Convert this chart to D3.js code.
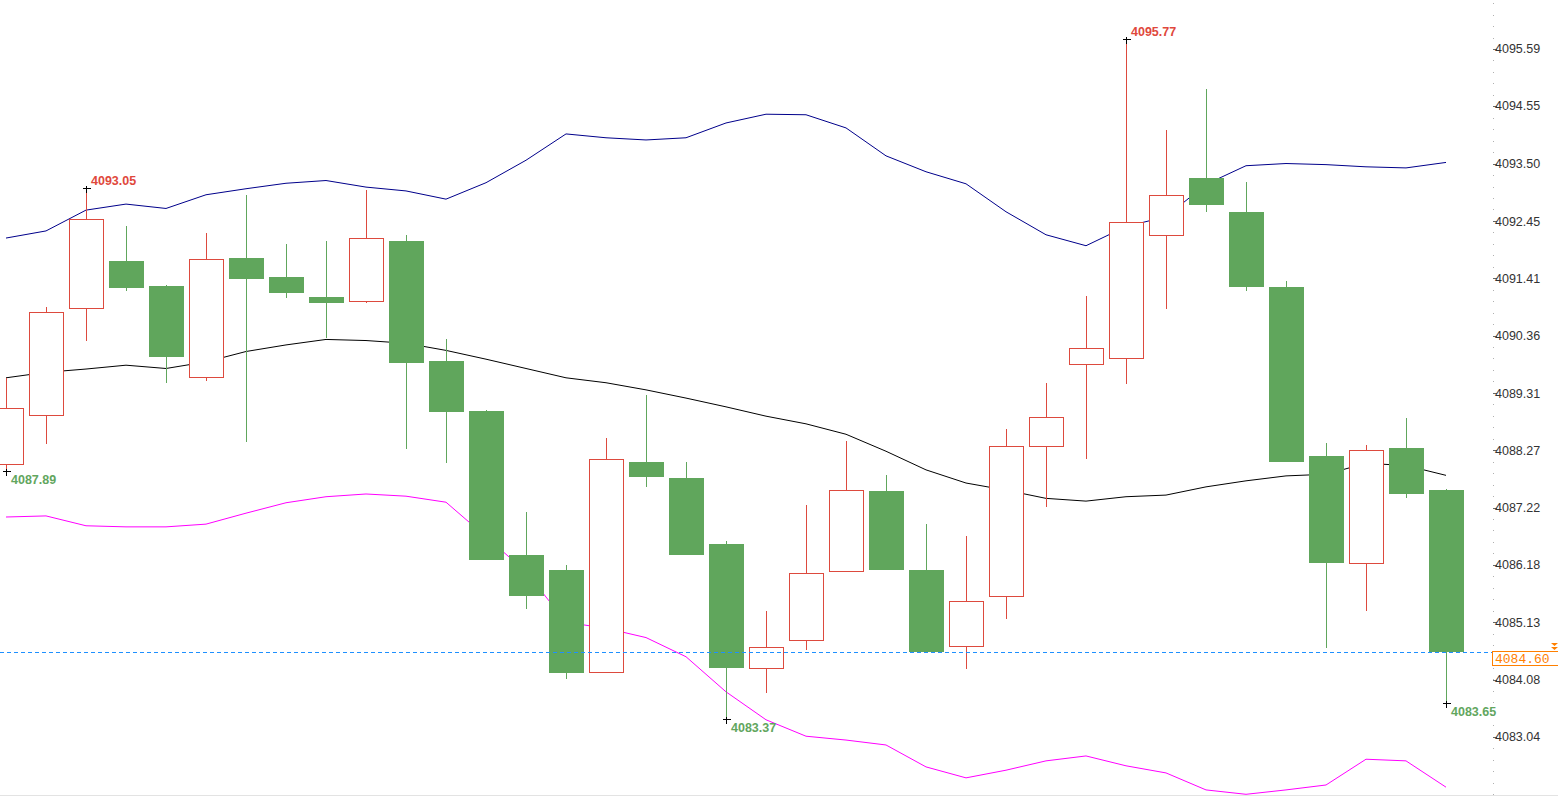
<!DOCTYPE html>
<html>
<head>
<meta charset="utf-8">
<script src="https://cdn.jsdelivr.net/npm/d3@7"></script>
<style>
html,body{margin:0;padding:0;background:#fff;}
svg{display:block;}
</style>
</head>
<body>
<svg id="chart" width="1558" height="798"></svg>
<script>
// ---------- data ----------
const openV  = [4088.01,4088.91,4090.86,4091.72,4091.26,4089.60,4091.78,4091.43,4091.06,4090.99,4092.09,4089.90,4088.98,4086.36,4086.08,4084.23,4088.05,4087.76,4086.56,4084.29,4084.80,4086.06,4087.52,4086.08,4084.69,4085.60,4088.34,4089.84,4089.96,4092.19,4093.24,4092.62,4091.24,4088.17,4086.21,4088.31,4087.54];
const highV  = [4089.59,4090.88,4093.05,4092.36,4091.28,4092.24,4092.93,4092.03,4092.09,4093.02,4092.20,4090.30,4089.00,4087.14,4086.17,4088.49,4089.28,4088.05,4086.61,4085.33,4087.27,4088.44,4087.82,4086.92,4086.70,4088.66,4089.50,4091.08,4095.77,4094.11,4094.86,4093.16,4091.36,4088.40,4088.36,4088.85,4087.56];
const lowV   = [4087.89,4088.39,4090.27,4091.18,4089.50,4089.54,4088.41,4091.05,4090.32,4090.96,4088.30,4088.04,4086.26,4085.38,4084.09,4084.22,4087.60,4086.36,4083.37,4083.83,4084.62,4086.05,4086.08,4084.60,4084.28,4085.19,4087.24,4088.10,4089.48,4090.85,4092.62,4091.18,4088.07,4084.66,4085.34,4087.40,4083.65];
const closeV = [4089.04,4090.79,4092.48,4091.25,4089.98,4091.75,4091.42,4091.16,4090.98,4092.15,4089.88,4088.99,4086.28,4085.63,4084.23,4088.10,4087.79,4086.38,4084.32,4084.67,4086.02,4087.54,4086.11,4084.60,4085.51,4088.34,4088.87,4090.13,4092.43,4092.92,4092.77,4091.27,4088.08,4086.23,4088.27,4087.49,4084.60];
const upperBand  = [4092.14,4092.27,4092.65,4092.76,4092.68,4092.93,4093.04,4093.14,4093.19,4093.07,4093.00,4092.85,4093.15,4093.56,4094.04,4093.97,4093.93,4093.97,4094.24,4094.40,4094.39,4094.15,4093.64,4093.35,4093.13,4092.62,4092.20,4092.00,4092.35,4092.53,4093.12,4093.46,4093.50,4093.48,4093.44,4093.42,4093.52];
const middleBand = [4089.59,4089.69,4089.75,4089.82,4089.76,4089.88,4090.07,4090.19,4090.29,4090.27,4090.22,4090.09,4089.93,4089.76,4089.59,4089.50,4089.37,4089.22,4089.06,4088.89,4088.75,4088.56,4088.25,4087.91,4087.67,4087.54,4087.39,4087.34,4087.42,4087.45,4087.60,4087.71,4087.80,4087.83,4088.03,4087.99,4087.81];
const lowerBand  = [4087.05,4087.07,4086.89,4086.87,4086.87,4086.92,4087.12,4087.31,4087.42,4087.47,4087.43,4087.32,4086.69,4086.05,4085.13,4085.02,4084.85,4084.50,4083.86,4083.35,4083.05,4082.98,4082.89,4082.49,4082.29,4082.43,4082.60,4082.69,4082.51,4082.38,4082.07,4081.99,4082.07,4082.16,4082.63,4082.60,4082.12];
const tickValues = [4095.59,4094.55,4093.50,4092.45,4091.41,4090.36,4089.31,4088.27,4087.22,4086.18,4085.13,4084.08,4083.04];
const tickLabels = ["4095.59","4094.55","4093.50","4092.45","4091.41","4090.36","4089.31","4088.27","4087.22","4086.18","4085.13","4084.08","4083.04"];
const lastPrice = 4084.60;
const lastPriceLabel = "4084.60";
// extreme markers: candle index, kind, label
const markIndex = [2, 0, 28, 18, 36];
const markKind  = ["high","low","high","low","low"];
const markLabel = ["4093.05","4087.89","4095.77","4083.37","4083.65"];

// ---------- layout ----------
const W = 1558, H = 798;
const plotRight = 1492, plotBottom = 796;
const svg = d3.select("#chart");

const n = openV.length;
const x = d3.scaleLinear().domain([0, n - 1]).range([6, 1446]);
const y = d3.scaleLinear().domain([4081.959, 4096.484]).range([plotBottom, 0]);
const bodyW = 34;
const up = "#dd4a3e", down = "#60a65c";

// bottom border
svg.append("line").attr("x1",0).attr("x2",W).attr("y1",795.5).attr("y2",795.5)
  .attr("stroke","#e3e3e3").attr("stroke-width",1);

const plot = svg.append("g");
svg.append("clipPath").attr("id","pc").append("rect")
  .attr("x",0).attr("y",0).attr("width",plotRight).attr("height",plotBottom);
plot.attr("clip-path","url(#pc)");

// bands
const line = d3.line().x((d,i)=>x(i)).y(d=>y(d));
plot.append("path").datum(upperBand).attr("d",line).attr("fill","none").attr("stroke","#00008b").attr("stroke-width",1);
plot.append("path").datum(middleBand).attr("d",line).attr("fill","none").attr("stroke","#000").attr("stroke-width",1);
plot.append("path").datum(lowerBand).attr("d",line).attr("fill","none").attr("stroke","#ff00ff").attr("stroke-width",1);

// candles
const idx = d3.range(n);
const cg = plot.append("g").attr("shape-rendering","crispEdges");
idx.forEach(i => {
  const o = openV[i], c = closeV[i], h = highV[i], l = lowV[i];
  const cx = Math.round(x(i));
  const isUp = c >= o;
  const col = isUp ? up : down;
  const yTop = Math.round(y(Math.max(o,c))), yBot = Math.round(y(Math.min(o,c)));
  const yH = Math.round(y(h)), yL = Math.round(y(l));
  if (isUp) {
    cg.append("line").attr("x1",cx+0.5).attr("x2",cx+0.5).attr("y1",yH).attr("y2",yTop).attr("stroke",col);
    cg.append("line").attr("x1",cx+0.5).attr("x2",cx+0.5).attr("y1",yBot).attr("y2",yL).attr("stroke",col);
    cg.append("rect").attr("x",cx-17+0.5).attr("y",yTop+0.5).attr("width",bodyW).attr("height",Math.max(1,yBot-yTop))
      .attr("fill","#fff").attr("stroke",col).attr("stroke-width",1);
  } else {
    cg.append("line").attr("x1",cx+0.5).attr("x2",cx+0.5).attr("y1",yH).attr("y2",yL).attr("stroke",col);
    cg.append("rect").attr("x",cx-17).attr("y",yTop).attr("width",bodyW+1).attr("height",Math.max(1,yBot-yTop+1))
      .attr("fill",col);
  }
});

// last price dashed line
const lineY = Math.round(y(lastPrice)) + 1.5;
svg.append("line").attr("x1",0).attr("x2",plotRight).attr("y1",lineY).attr("y2",lineY)
  .attr("stroke","#1e90ff").attr("stroke-width",1).attr("stroke-dasharray","4,3");

// markers
markIndex.forEach((i,k) => {
  const cx = Math.round(x(i)) + 0.5;
  const isHigh = markKind[k] === "high";
  const v = isHigh ? highV[i] : lowV[i];
  const cy = Math.round(y(v)) + 0.5;
  svg.append("path").attr("d",`M${cx-4},${cy}H${cx+4}M${cx},${cy-3}V${cy+4}`)
    .attr("stroke","#000").attr("stroke-width",1).attr("shape-rendering","crispEdges");
  svg.append("text").attr("x",cx+4.5).attr("y", isHigh ? cy-4 : cy+12)
    .attr("font-family","Liberation Sans, Arial, sans-serif").attr("font-size","12.5px").attr("font-weight","bold")
    .attr("fill", isHigh ? "#e0483c" : "#62a65e").text(markLabel[k]);
});

// right axis
const ax = svg.append("g").attr("shape-rendering","crispEdges");
const step = (tickValues[0]-tickValues[tickValues.length-1])/(tickValues.length-1);
const minor = [];
for (let v = tickValues[0] + step; v >= y.domain()[0]; v -= step/5) minor.push(v);
ax.selectAll("rect.minor").data(minor).join("rect").attr("class","minor")
  .attr("x",1493).attr("y",d=>Math.round(y(d))).attr("width",1).attr("height",1).attr("fill","#b0b0b0");
ax.selectAll("line.major").data(tickValues).join("line").attr("class","major")
  .attr("x1",1493).attr("x2",1497).attr("y1",d=>Math.round(y(d))+0.5).attr("y2",d=>Math.round(y(d))+0.5)
  .attr("stroke","#666");
svg.selectAll("text.tick").data(tickValues).join("text").attr("class","tick")
  .attr("x",1495).attr("y",d=>y(d)+4.5)
  .attr("font-family","Liberation Sans, Arial, sans-serif").attr("font-size","12.5px").attr("fill","#333")
  .text((d,i)=>tickLabels[i]);

// last price label
const ly = Math.round(y(lastPrice));
svg.append("rect").attr("x",1492.5).attr("y",ly+0.5).attr("width",70).attr("height",14)
  .attr("fill","#fff").attr("stroke","#ff8000").attr("stroke-width",1);
svg.append("text").attr("x",1495).attr("y",ly+12)
  .attr("font-family","Liberation Mono, DejaVu Sans Mono, monospace").attr("font-size","13px").attr("fill","#ff8000")
  .text(lastPriceLabel);
svg.append("path").attr("d",`M1551,${ly-8}h7l-3.5,3z M1551,${ly-4}h7l-3.5,3z`).attr("fill","#ff8000");
</script>
</body>
</html>
